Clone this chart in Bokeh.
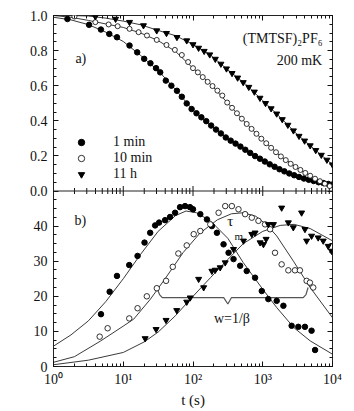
import math
from bokeh.plotting import figure
from bokeh.models import (LinearAxis, LogAxis, Legend, LegendItem, Label,
                          Range1d, FixedTicker, LogTicker, Span)
from bokeh.embed import file_html
from bokeh.resources import INLINE

# ---------------- data (x given as log10 t) ----------------
# panel a) relaxation dT/dT0
a_1min_logt = [0.20,0.51,0.68,0.80,0.91,1.09,1.20,1.30,1.39,1.47,1.53,1.61,1.69,1.77,1.84,1.91,1.98,
               2.05,2.12,2.19,2.26,2.33,2.40,2.47,2.54,2.61,2.68,2.75,2.82,2.89,2.96,3.03,3.10,3.17,
               3.24,3.31,3.38,3.45,3.52,3.59,3.66,3.73,3.80,3.87,3.94,3.99]
a_1min_v = [0.980,0.947,0.920,0.895,0.876,0.829,0.790,0.753,0.728,0.700,0.676,0.629,0.600,0.571,0.537,
            0.499,0.467,0.443,0.420,0.398,0.373,0.350,0.328,0.305,0.287,0.270,0.253,0.235,0.217,0.199,
            0.184,0.168,0.152,0.138,0.124,0.112,0.100,0.090,0.080,0.071,0.064,0.057,0.050,0.045,0.040,0.036]
a_10min_logt = [0.30,0.60,0.79,0.92,1.09,1.22,1.34,1.48,1.62,1.74,1.84,1.93,2.00,2.07,2.14,2.21,2.28,
                2.35,2.42,2.49,2.56,2.63,2.70,2.77,2.84,2.91,2.98,3.05,3.12,3.19,3.26,3.33,3.40,3.47,
                3.54,3.61,3.68,3.75,3.82,3.89,3.96]
a_10min_v = [0.994,0.962,0.949,0.939,0.924,0.905,0.886,0.861,0.832,0.804,0.775,0.735,0.700,0.676,0.649,
             0.622,0.598,0.572,0.544,0.504,0.474,0.443,0.412,0.382,0.354,0.326,0.298,0.272,0.246,0.221,
             0.197,0.176,0.155,0.137,0.120,0.103,0.087,0.070,0.056,0.042,0.028]
a_11h_logt = [0.60,0.89,1.09,1.29,1.48,1.62,1.77,1.91,2.00,2.08,2.16,2.24,2.32,2.40,2.48,2.56,2.64,2.72,
              2.80,2.88,2.96,3.04,3.12,3.20,3.28,3.36,3.44,3.52,3.60,3.68,3.76,3.84,3.92,4.00]
a_11h_v = [0.994,0.980,0.962,0.943,0.914,0.899,0.876,0.857,0.835,0.815,0.797,0.777,0.752,0.724,0.697,
           0.671,0.645,0.619,0.592,0.565,0.530,0.500,0.470,0.440,0.408,0.376,0.344,0.313,0.286,0.259,
           0.232,0.205,0.177,0.150]
# fit curves, panel a)
fa_logt = [0.0,0.25,0.5,0.75,1.0,1.25,1.5,1.75,2.0,2.25,2.5,2.75,3.0,3.25,3.5,3.75,4.0]
fa_1min = [0.990,0.975,0.948,0.905,0.852,0.772,0.686,0.578,0.460,0.376,0.297,0.235,0.175,0.122,0.083,0.055,0.035]
fa_10min = [1.000,0.990,0.972,0.952,0.932,0.900,0.857,0.795,0.700,0.610,0.500,0.390,0.290,0.200,0.130,0.070,0.020]
fa_11h = [1.000,1.000,0.997,0.985,0.968,0.947,0.915,0.885,0.835,0.775,0.690,0.610,0.515,0.420,0.320,0.235,0.150]

# panel b) relaxation-rate spectrum S
b_1min_logt = [0.681,0.805,0.91,1.086,1.205,1.305,1.386,1.457,1.514,1.60,1.671,1.743,1.814,1.886,1.957,
               2.00,2.105,2.20,2.271,2.343,2.438,2.51,2.581,2.676,2.77,2.89,2.986,3.08,3.20,3.296,
               3.414,3.51,3.605,3.70,3.75]
b_1min_s = [14.9,21.3,25.8,28.9,31.5,35.3,38.1,40.2,41.0,41.7,42.6,43.8,45.4,45.7,45.4,44.8,43.4,41.9,
            40.0,38.1,34.8,32.4,30.6,28.7,27.2,25.3,21.5,19.2,18.7,17.3,11.6,11.3,11.3,10.2,4.7]
b_10min_logt = [0.662,0.776,1.086,1.205,1.338,1.481,1.614,1.71,1.79,1.91,2.01,2.105,2.248,2.367,2.462,
                2.557,2.652,2.747,2.843,2.938,3.033,3.105,3.176,3.271,3.367,3.462,3.533,3.629,3.676,3.724]
b_10min_s = [8.5,10.9,13.7,16.6,20.0,22.3,24.4,28.4,32.2,34.5,37.7,38.6,40.5,43.8,45.7,45.7,44.8,43.4,
             42.4,41.5,40.5,39.1,32.4,29.1,27.4,27.4,27.4,24.4,23.9,22.5]
b_11h_logt = [1.314,1.471,1.614,1.767,1.91,1.96,2.081,2.153,2.271,2.319,2.39,2.462,2.581,2.724,2.843,
              2.89,2.962,3.01,3.048,3.081,3.153,3.271,3.367,3.438,3.557,3.605,3.629,3.70,3.795,3.867,
              3.938,3.986]
b_11h_s = [8.0,10.6,13.2,16.0,18.4,19.6,24.9,22.5,27.2,27.5,28.2,29.6,33.4,35.8,37.7,38.1,35.3,34.8,
           36.3,40.5,40.5,45.2,41.0,39.6,43.8,39.1,35.8,37.2,36.7,35.8,34.3,32.9]
# fit curves, panel b)
fb_1min_logt = [0.0,0.25,0.5,0.75,1.0,1.25,1.5,1.75,1.9,2.05,2.25,2.5,2.72,3.0,3.2,3.45,3.68,4.0]
fb_1min = [5.8,9.0,13.0,18.5,25.0,32.0,38.5,43.0,44.3,43.8,41.5,36.5,29.6,22.0,16.8,11.0,7.3,3.5]
fb_10min_logt = [0.0,0.3,0.67,1.0,1.15,1.39,1.6,1.86,2.1,2.35,2.55,2.72,2.9,3.05,3.2,3.44,3.68,4.0]
fb_10min = [1.2,2.8,7.2,11.5,13.5,19.2,25.0,32.5,38.0,41.8,43.5,43.8,42.8,40.5,37.2,30.0,22.5,13.9]
fb_11h_logt = [0.0,0.5,1.0,1.3,1.5,1.75,2.0,2.25,2.5,2.72,3.0,3.25,3.45,3.68,4.0]
fb_11h = [0.5,1.8,4.0,7.0,9.8,14.5,20.0,25.3,30.5,35.0,38.5,40.2,40.5,39.3,35.8]

# width brace (annotation) in log10 t / S
brace_logt = [1.48,1.52,1.56,2.44,2.50,2.55,3.58,3.62,3.65]
brace_s = [22.5,20.5,19.6,19.6,17.8,19.6,19.6,20.5,22.5]

x_ticks = [1, 10, 100, 1000, 10000]
x_tick_labels = ["10⁰", "10¹", "10²", "10³", "10⁴"]
a_ticks = [0.0, 0.2, 0.4, 0.6, 0.8, 1.0]
a_tick_labels = ["0.0", "0.2", "0.4", "0.6", "0.8", "1.0"]
b_ticks = [0, 10, 20, 30, 40]
legend_labels = ["1 min", "10 min", "11 h"]

S_MAX = 50.0   # panel b occupies S = 0..50, panel a is stacked above it


def T(lst):
    return [10 ** v for v in lst]


def A(v):  # panel-a value -> shared y coordinate
    return S_MAX + S_MAX * v


FONT = "Liberation Serif"
LINE = "#3a3a3a"

p = figure(x_axis_type="log", x_range=Range1d(1, 1e4), y_range=Range1d(0, 2 * S_MAX),
           frame_width=279, frame_height=351,
           min_border_left=53, min_border_right=16, min_border_top=15, min_border_bottom=0,
           toolbar_location=None, output_backend="svg")
p.extra_y_ranges = {"a": Range1d(-1, 1)}
p.xgrid.visible = False
p.ygrid.visible = False
p.outline_line_color = "#222"


def style_axis(ax, labels=True):
    ax.axis_line_color = None
    ax.major_tick_in = 5
    ax.major_tick_out = 0
    ax.minor_tick_in = 3
    ax.minor_tick_out = 0
    ax.major_tick_line_color = "#111"
    ax.minor_tick_line_color = "#111"
    ax.major_label_text_font = FONT
    ax.axis_label_text_font = FONT
    ax.axis_label_text_font_style = "normal"
    ax.major_label_text_color = "#111"
    ax.axis_label_text_color = "#111"
    if labels:
        ax.major_label_text_font_size = "14px"
        ax.axis_label_text_font_size = "15px"
    else:
        ax.major_label_text_font_size = "0px"
        ax.major_label_standoff = 0
        ax.major_label_text_alpha = 0


y_major = b_ticks + [A(v) for v in a_ticks]
y_minor = [i * 2.5 for i in range(41)]
yticker = FixedTicker(ticks=y_major, minor_ticks=y_minor)
overrides = {t: str(t) for t in b_ticks}
overrides.update({A(v): lab for v, lab in zip(a_ticks, a_tick_labels)})

p.yaxis.ticker = yticker
p.yaxis.major_label_overrides = overrides
style_axis(p.yaxis[0])
p.yaxis.major_label_standoff = 6

p.xaxis.ticker = LogTicker(num_minor_ticks=10)
p.xaxis.major_label_overrides = dict(zip(x_ticks, x_tick_labels))
style_axis(p.xaxis[0])
p.xaxis.axis_label = "t (s)"
p.xaxis.major_label_standoff = 5
p.xaxis.axis_label_standoff = 2

ra = LinearAxis(ticker=yticker)
style_axis(ra, labels=False)
p.add_layout(ra, "right")
ta = LogAxis(ticker=LogTicker(num_minor_ticks=10))
style_axis(ta, labels=False)
p.add_layout(ta, "above")

# divider between the panels, with ticks crossing it
p.add_layout(Span(location=S_MAX, dimension="width", line_color="#222", line_width=1))
major_x = x_ticks[1:-1]
minor_x = [d * k for d in x_ticks[:-1] for k in range(2, 10)]
p.scatter(major_x, [S_MAX] * len(major_x), marker="dash", angle=math.pi / 2, size=10,
          line_color="#111", line_width=1)
p.scatter(minor_x, [S_MAX] * len(minor_x), marker="dash", angle=math.pi / 2, size=6,
          line_color="#111", line_width=1)

# ---- panel a ----
for fy in (fa_1min, fa_10min, fa_11h):
    p.line(T(fa_logt), fy, y_range_name="a", line_color=LINE, line_width=1)
r1 = p.scatter(T(a_1min_logt), a_1min_v, y_range_name="a", marker="circle", size=5.5,
               fill_color="black", line_color="black")
r2 = p.scatter(T(a_10min_logt), a_10min_v, y_range_name="a", marker="circle", size=5,
               fill_color="white", line_color="black", line_width=0.8)
r3 = p.scatter(T(a_11h_logt), a_11h_v, y_range_name="a", marker="inverted_triangle", size=6,
               fill_color="black", line_color="black")

leg = Legend(items=[LegendItem(label=legend_labels[0], renderers=[r1]),
                    LegendItem(label=legend_labels[1], renderers=[r2]),
                    LegendItem(label=legend_labels[2], renderers=[r3])],
             location=(18, 184), padding=5, margin=0, spacing=0, glyph_width=20, glyph_height=16,
             label_height=16, label_standoff=22, label_text_font=FONT, label_text_font_size="14px",
             label_text_color="#111", background_fill_alpha=0, border_line_color=None)
p.add_layout(leg)

for txt, lx, ly, align in [("a)", 2.06, 0.755, "left"), ("(TMTSF)₂PF₆", 7200, 0.869, "right"),
                           ("200 mK", 7100, 0.743, "right")]:
    p.add_layout(Label(x=lx, y=ly, y_range_name="a", text=txt, text_font=FONT, text_color="#111",
                       text_font_size="14px", text_align=align, text_baseline="middle"))

# ---- panel b ----
p.line(T(fb_1min_logt), fb_1min, line_color=LINE, line_width=1)
p.line(T(fb_10min_logt), fb_10min, line_color=LINE, line_width=1)
p.line(T(fb_11h_logt), fb_11h, line_color=LINE, line_width=1)
p.line(T(brace_logt), brace_s, line_color="#555", line_width=1.2)
p.scatter(T(b_1min_logt), b_1min_s, marker="circle", size=5.5, fill_color="black", line_color="black")
p.scatter(T(b_10min_logt), b_10min_s, marker="circle", size=5.5, fill_color="white",
          line_color="black", line_width=0.8)
p.scatter(T(b_11h_logt), b_11h_s, marker="inverted_triangle", size=6, fill_color="black",
          line_color="black")

for txt, lx, ly, size, align in [("b)", 2.0, 41.7, "14px", "left"), ("τ", 343, 41.5, "15px", "center"),
                                 ("m", 454, 37.3, "11px", "center"), ("w=1/β", 361, 13.7, "14px", "center")]:
    p.add_layout(Label(x=lx, y=ly, text=txt, text_font=FONT, text_font_size=size, text_color="#111",
                       text_align=align, text_baseline="middle"))

# y-axis titles of the two panels
p.add_layout(Label(x=10 ** -0.5, y=0.5, y_range_name="a", text="ΔT/ΔT₀", angle=math.pi / 2,
                   text_font=FONT, text_font_size="15px", text_color="#111",
                   text_align="center", text_baseline="middle"))
p.add_layout(Label(x=10 ** -0.47, y=25, text="S", angle=math.pi / 2, text_color="#111",
                   text_font=FONT, text_font_size="15px", text_align="center", text_baseline="middle"))

open("out.html", "w").write(file_html(p, INLINE))
